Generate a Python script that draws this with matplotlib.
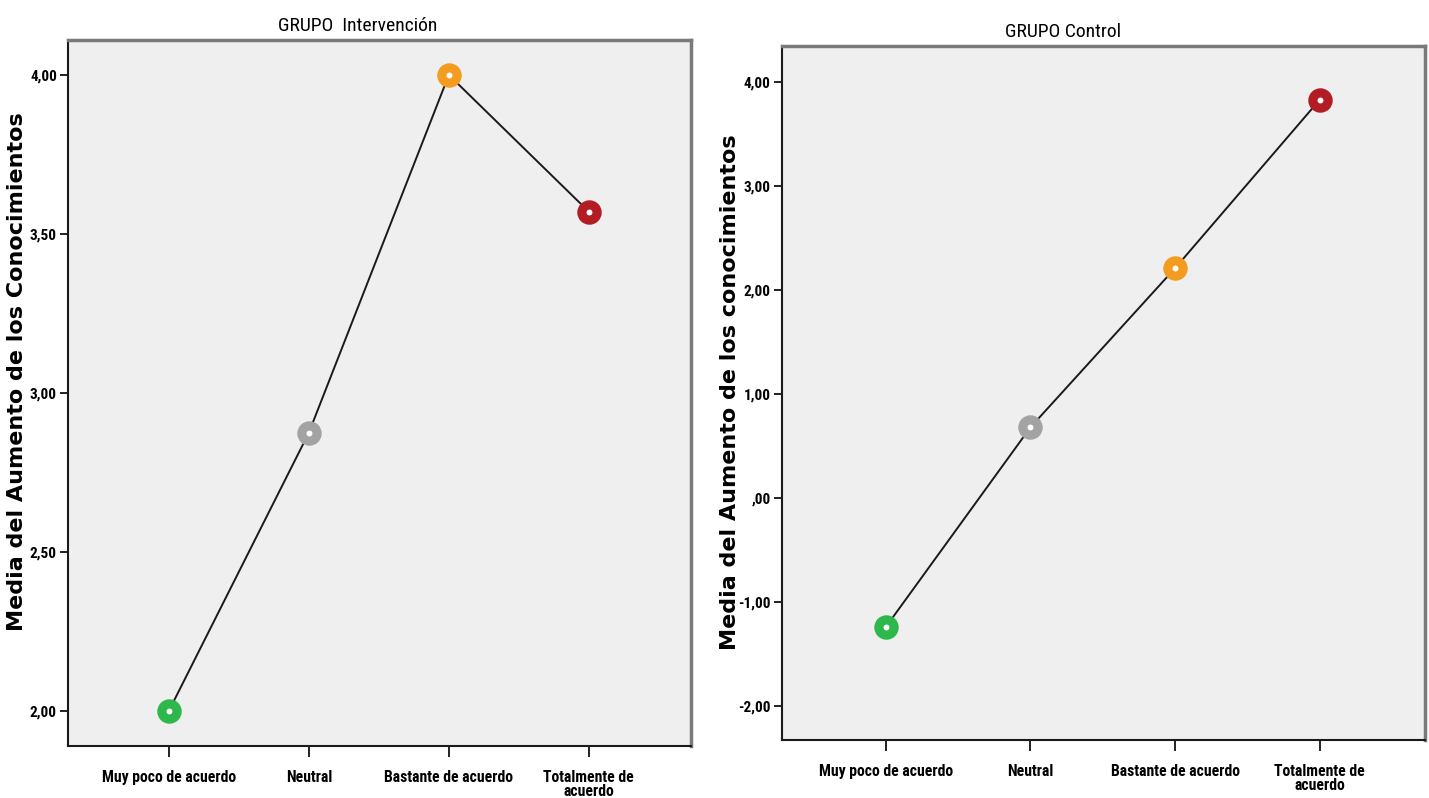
import matplotlib
matplotlib.use("Agg")
import matplotlib.pyplot as plt
from matplotlib import font_manager
from matplotlib.font_manager import FontProperties

categories = ["Muy poco de acuerdo", "Neutral", "Bastante de acuerdo", "Totalmente de\nacuerdo"]
marker_colors = ["#2eb84b", "#a3a3a3", "#f39c1f", "#b11d22"]

intervencion_means = [2.00, 2.875, 4.00, 3.57]
control_means = [-1.24, 0.68, 2.21, 3.83]

intervencion_ticks = [2.00, 2.50, 3.00, 3.50, 4.00]
intervencion_ticklabels = ["2,00", "2,50", "3,00", "3,50", "4,00"]
control_ticks = [-2.0, -1.0, 0.0, 1.0, 2.0, 3.0, 4.0]
control_ticklabels = ["-2,00", "-1,00", ",00", "1,00", "2,00", "3,00", "4,00"]


def pick_narrow():
    """Return (family, stretch, scale) for a condensed face, if one is installed."""
    names = {f.name for f in font_manager.fontManager.ttflist}
    for fam in ("Liberation Sans Narrow", "Arial Narrow", "Roboto Condensed",
                "Open Sans Condensed", "Noto Sans Display"):
        if fam in names:
            return fam, "normal", 1.0
    for fam in ("DejaVu Sans", "Noto Sans", "Open Sans", "Roboto"):
        fp = FontProperties(family=fam, stretch="condensed", weight="bold")
        path = font_manager.findfont(fp, fallback_to_default=False)
        if "ondensed" in path:
            return fam, "condensed", 0.95
    return "Liberation Sans", "normal", 0.82


NARROW, STRETCH, SCALE = pick_narrow()

BG = "#efefef"
FRAME_GRAY = "#7a7a7a"

fig = plt.figure(figsize=(14.29, 7.98), dpi=100)

panels = [
    dict(rect=[0.0476, 0.0652, 0.4360, 0.8847], means=intervencion_means,
         ylim=(1.89, 4.11), ticks=intervencion_ticks, ticklabels=intervencion_ticklabels,
         title="GRUPO  Intervención", title_x=0.465, title_y=0.968,
         ylabel="Media del Aumento de los Conocimientos", ylabel_x=0.012, ylabel_y=0.534),
    dict(rect=[0.5472, 0.0727, 0.4500, 0.8697], means=control_means,
         ylim=(-2.33, 4.35), ticks=control_ticks, ticklabels=control_ticklabels,
         title="GRUPO Control", title_x=0.437, title_y=0.960,
         ylabel="Media del Aumento de los conocimientos", ylabel_x=0.511, ylabel_y=0.509),
]

for p in panels:
    ax = fig.add_axes(p["rect"])
    ax.set_facecolor(BG)
    xs = list(range(len(categories)))
    ax.plot(xs, p["means"], color="#1a1a1a", lw=1.4, zorder=2)
    for x, y, c in zip(xs, p["means"], marker_colors):
        ax.plot([x], [y], marker="o", ms=11.0, mew=6.6, mfc="white", mec=c,
                zorder=3, ls="none")
    ax.set_xlim(-0.72, 3.73)
    ax.set_ylim(*p["ylim"])
    ax.set_xticks(xs)
    ax.set_xticklabels(categories, fontfamily=NARROW, fontstretch=STRETCH,
                       fontweight="bold", fontsize=11.3 * SCALE, linespacing=0.95)
    ax.set_yticks(p["ticks"])
    ax.set_yticklabels(p["ticklabels"], fontfamily=NARROW, fontstretch=STRETCH,
                       fontweight="bold", fontsize=11 * SCALE)
    ax.tick_params(axis="x", direction="out", length=8, width=1.4, color="#222222", pad=9)
    ax.tick_params(axis="y", direction="out", length=6, width=1.4, color="#222222", pad=2)
    for side in ("left", "bottom"):
        ax.spines[side].set_color("#1a1a1a")
        ax.spines[side].set_linewidth(1.5)
    for side in ("top", "right"):
        ax.spines[side].set_color(FRAME_GRAY)
        ax.spines[side].set_linewidth(2.5)
    fig.text(p["rect"][0] + p["title_x"] * p["rect"][2], p["title_y"], p["title"],
             ha="center", va="center", fontfamily=NARROW, fontstretch=STRETCH,
             fontsize=14 * SCALE)
    fig.text(p["ylabel_x"], p["ylabel_y"], p["ylabel"],
             rotation=90, ha="center", va="center", fontfamily="DejaVu Sans",
             fontweight="bold", fontsize=16)

fig.savefig("out.png", dpi=100, facecolor="white")
